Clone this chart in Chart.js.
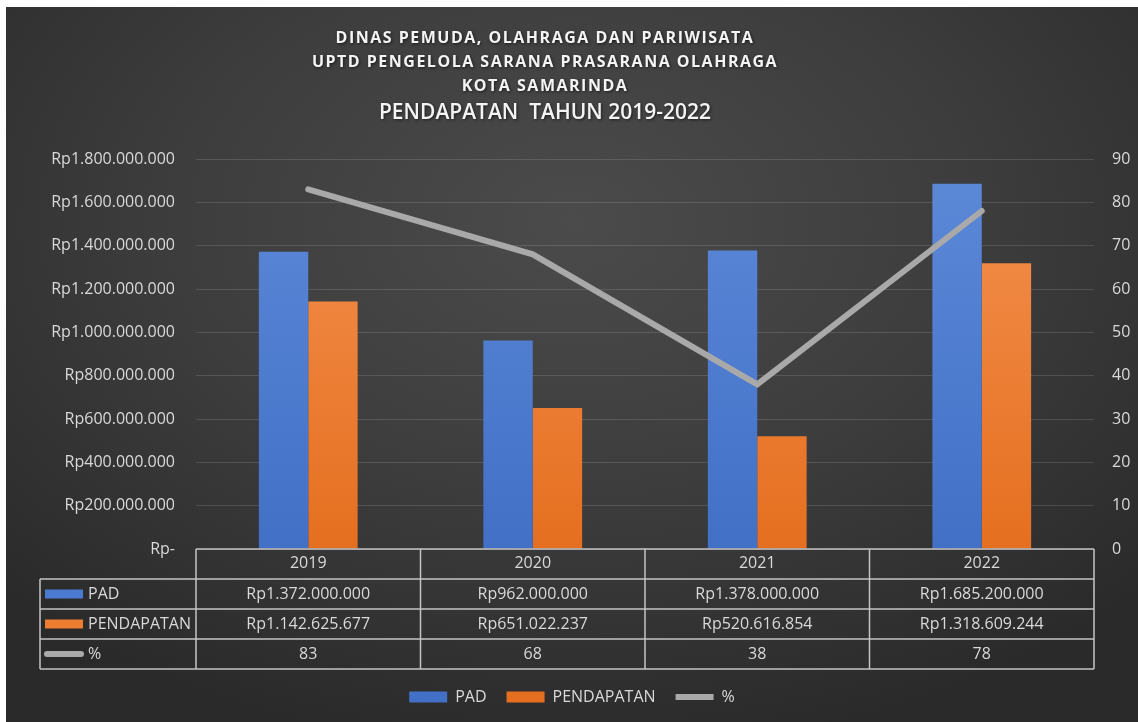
<!DOCTYPE html>
<html lang="id">
<head>
  <meta charset="UTF-8" />
  <title>Pendapatan Tahun 2019-2022</title>
  <script src="https://cdn.jsdelivr.net/npm/chart.js"></script>
  <style>
    html, body { margin: 0; padding: 0; background: #fff; }
    body { width: 1138px; height: 722px; overflow: hidden; position: relative; }
    #wrap {
      position: absolute; left: 6px; top: 7px; width: 1132px; height: 715px;
      background: radial-gradient(ellipse 70% 75% at 50% 30%, #4b4b4b 0%, #3d3d3d 50%, #2a2a2a 100%);
    }
  </style>
</head>
<body>
  <div id="wrap"><canvas id="chart"></canvas></div>

  <script>
    const years = ['2019', '2020', '2021', '2022'];
    const padValues = [1372000000, 962000000, 1378000000, 1685200000];
    const pendapatanValues = [1142625677, 651022237, 520616854, 1318609244];
    const percentValues = [83, 68, 38, 78];
    const seriesNames = ['PAD', 'PENDAPATAN', '%'];
    const titleLines = [
      'DINAS PEMUDA, OLAHRAGA DAN PARIWISATA',
      'UPTD PENGELOLA SARANA PRASARANA OLAHRAGA',
      'KOTA SAMARINDA'
    ];
    const subTitle = 'PENDAPATAN  TAHUN 2019-2022';

    const textColor = '#d9d9d9';
    const lineColor = '#a9a9a9';

    function formatRp(v) {
      if (v === 0) return 'Rp-';
      return 'Rp' + String(v).replace(/\B(?=(\d{3})+(?!\d))/g, '.');
    }

    function barGradient(top, bottom) {
      return ctx => {
        const area = ctx.chart.chartArea;
        if (!area) return bottom;
        const g = ctx.chart.ctx.createLinearGradient(0, area.top, 0, area.bottom);
        g.addColorStop(0, top);
        g.addColorStop(1, bottom);
        return g;
      };
    }

    Chart.defaults.font.family = '"Open Sans", sans-serif';
    Chart.defaults.font.size = 16;
    Chart.defaults.color = textColor;

    // title lines with letter spacing
    const titlePlugin = {
      id: 'titleLines',
      beforeDraw(chart) {
        const c = chart.ctx;
        c.save();
        c.textAlign = 'center';
        c.textBaseline = 'middle';
        c.fillStyle = '#f4f4f4';
        c.shadowColor = 'rgba(0,0,0,0.6)';
        c.shadowBlur = 3;
        c.shadowOffsetX = 1;
        c.shadowOffsetY = 1;
        c.font = 'bold 16px "Open Sans", sans-serif';
        c.letterSpacing = '1.5px';
        const ys = [31, 55, 79.5];
        titleLines.forEach((t, i) => c.fillText(t, 539, ys[i]));
        c.font = '600 21px "Open Sans", sans-serif';
        c.letterSpacing = '0px';
        c.fillText(subTitle, 539, 106);
        c.restore();
      }
    };

    // data table under the plot
    const tablePlugin = {
      id: 'dataTable',
      afterDraw(chart) {
        const c = chart.ctx;
        const x = chart.scales.x;
        const area = chart.chartArea;
        const rowH = 30;
        const top = area.bottom;
        const leftX = 34;
        const half = (x.getPixelForValue(1) - x.getPixelForValue(0)) / 2;
        const rows = [padValues.map(formatRp), pendapatanValues.map(formatRp), percentValues.map(String)];

        c.save();
        c.strokeStyle = '#c4c4c4';
        c.lineWidth = 1.5;
        c.beginPath();
        c.moveTo(area.left, top);
        c.lineTo(area.right, top);
        for (let r = 1; r <= 4; r++) {
          c.moveTo(leftX, top + r * rowH);
          c.lineTo(area.right, top + r * rowH);
        }
        c.moveTo(leftX, top + rowH);
        c.lineTo(leftX, top + 4 * rowH);
        c.moveTo(area.left, top);
        c.lineTo(area.left, top + 4 * rowH);
        years.forEach((y, i) => {
          const px = x.getPixelForValue(i) + half;
          c.moveTo(px, top);
          c.lineTo(px, top + 4 * rowH);
        });
        c.stroke();

        c.font = '16px "Open Sans", sans-serif';
        c.fillStyle = textColor;
        c.textBaseline = 'middle';
        rows.forEach((vals, r) => {
          const cy = top + (r + 1.5) * rowH;
          c.textAlign = 'center';
          vals.forEach((v, i) => c.fillText(v, x.getPixelForValue(i), cy));
          // legend key in first column
          if (r < 2) {
            c.fillStyle = r === 0 ? '#4a7bd0' : '#ee7d34';
            c.fillRect(leftX + 5, cy - 4.5, 38, 9);
          } else {
            c.strokeStyle = lineColor;
            c.lineWidth = 6;
            c.lineCap = 'round';
            c.beginPath();
            c.moveTo(leftX + 7, cy);
            c.lineTo(leftX + 41, cy);
            c.stroke();
          }
          c.fillStyle = textColor;
          c.textAlign = 'left';
          c.fillText(seriesNames[r], leftX + 48, cy);
        });
        c.restore();
      }
    };

    new Chart(document.getElementById('chart'), {
      type: 'bar',
      data: {
        labels: years,
        datasets: [
          {
            label: seriesNames[0],
            data: padValues,
            backgroundColor: barGradient('#5d89d8', '#4170c6'),
            borderWidth: 0,
            pointStyle: 'rect',
            yAxisID: 'y',
            order: 1
          },
          {
            label: seriesNames[1],
            data: pendapatanValues,
            backgroundColor: barGradient('#f4914f', '#e56f20'),
            borderWidth: 0,
            pointStyle: 'rect',
            yAxisID: 'y',
            order: 1
          },
          {
            type: 'line',
            label: seriesNames[2],
            data: percentValues,
            borderColor: lineColor,
            backgroundColor: lineColor,
            borderWidth: 6,
            borderCapStyle: 'round',
            pointRadius: 0,
            pointStyle: 'line',
            tension: 0,
            yAxisID: 'y1',
            order: 0
          }
        ]
      },
      options: {
        responsive: true,
        maintainAspectRatio: false,
        animation: false,
        datasets: {
          bar: { categoryPercentage: 0.44, barPercentage: 1 }
        },
        layout: { padding: { top: 152, left: 0, right: 0, bottom: 7 } },
        plugins: {
          title: { display: false },
          tooltip: { enabled: false },
          legend: {
            position: 'bottom',
            labels: {
              usePointStyle: true,
              pointStyleWidth: 38,
              boxHeight: 11,
              padding: 20,
              color: textColor,
              font: { size: 16 },
              sort: (a, b) => a.datasetIndex - b.datasetIndex
            }
          }
        },
        scales: {
          x: {
            grid: { display: false, drawTicks: false },
            border: { display: false },
            ticks: { color: textColor, padding: 5, font: { size: 16 } },
            afterFit: scale => { scale.height = 120; }
          },
          y: {
            position: 'left',
            min: 0,
            max: 1800000000,
            ticks: { stepSize: 200000000, padding: 21, color: textColor, callback: v => formatRp(v) },
            grid: { color: 'rgba(255,255,255,0.13)', drawTicks: false },
            border: { display: false },
            afterFit: scale => { scale.width = 190; }
          },
          y1: {
            position: 'right',
            min: 0,
            max: 90,
            ticks: { stepSize: 10, padding: 18, color: textColor },
            grid: { drawOnChartArea: false, drawTicks: false },
            border: { display: false },
            afterFit: scale => { scale.width = 44; }
          }
        }
      },
      plugins: [titlePlugin, tablePlugin]
    });
  </script>
</body>
</html>
